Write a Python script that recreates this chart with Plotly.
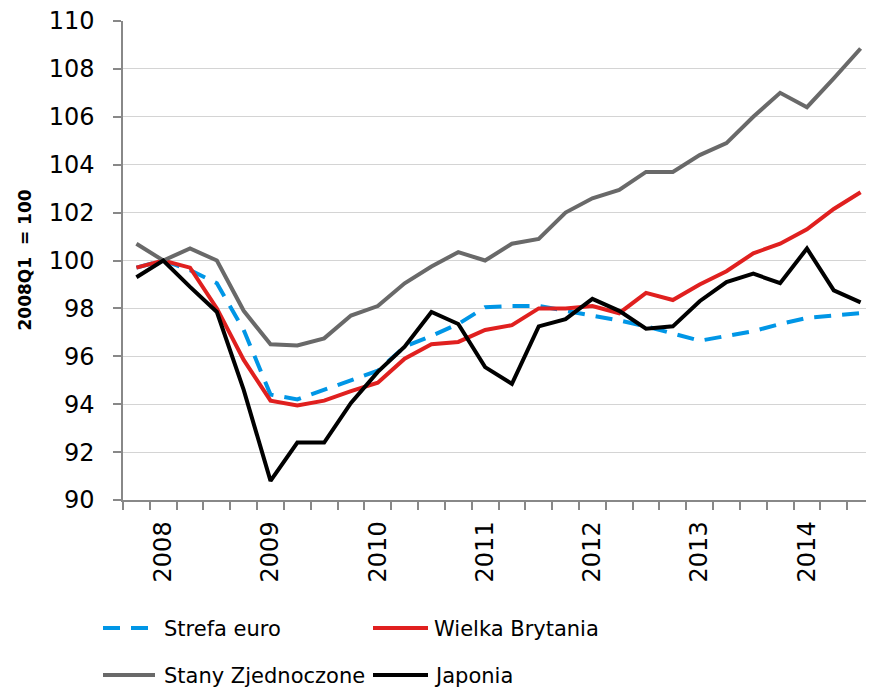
import plotly.graph_objects as go

# ---- data ----
quarters = ["2007Q4",
            "2008Q1", "2008Q2", "2008Q3", "2008Q4",
            "2009Q1", "2009Q2", "2009Q3", "2009Q4",
            "2010Q1", "2010Q2", "2010Q3", "2010Q4",
            "2011Q1", "2011Q2", "2011Q3", "2011Q4",
            "2012Q1", "2012Q2", "2012Q3", "2012Q4",
            "2013Q1", "2013Q2", "2013Q3", "2013Q4",
            "2014Q1", "2014Q2", "2014Q3"]

strefa_euro = [99.7, 100.0, 99.6, 99.05, 97.1, 94.4, 94.2, 94.6, 95.0, 95.4,
               96.4, 96.85, 97.35, 98.05, 98.1, 98.1, 97.9, 97.7, 97.5, 97.25,
               96.95, 96.65, 96.85, 97.05, 97.35, 97.6, 97.7, 97.8]
wielka_brytania = [99.7, 100.0, 99.7, 98.0, 95.85, 94.15, 93.95, 94.15, 94.55, 94.9,
                   95.9, 96.5, 96.6, 97.1, 97.3, 98.0, 98.0, 98.1, 97.8, 98.65,
                   98.35, 99.0, 99.55, 100.3, 100.7, 101.3, 102.15, 102.85]
stany_zjednoczone = [100.7, 100.0, 100.5, 100.0, 97.9, 96.5, 96.45, 96.75, 97.7, 98.1,
                     99.05, 99.75, 100.35, 100.0, 100.7, 100.9, 102.0, 102.6, 102.95, 103.7,
                     103.7, 104.4, 104.9, 106.0, 107.0, 106.4, 107.6, 108.85]
japonia = [99.3, 100.0, 98.9, 97.85, 94.6, 90.8, 92.4, 92.4, 94.05, 95.35,
           96.4, 97.85, 97.35, 95.55, 94.85, 97.25, 97.55, 98.4, 97.9, 97.15,
           97.25, 98.3, 99.1, 99.45, 99.05, 100.5, 98.75, 98.25]

series_names = ["Strefa euro", "Wielka Brytania", "Stany Zjednoczone", "Japonia"]
y_title = "2008Q1  = 100"
y_ticks = [90, 92, 94, 96, 98, 100, 102, 104, 106, 108, 110]

# ---- styling ----
FONT = "DejaVu Sans"
OFF = 8                       # page body margin
W, H = 874 - OFF, 688 - OFF
ML, MT = 123 - OFF, 21 - OFF
PW, PH = 751, 479
MR = W - ML - PW
MB = H - MT - PH

colors = ["#0096E6", "#E0201F", "#696969", "#000000"]
dashes = ["17px,11px", "solid", "solid", "solid"]

idx = list(range(len(quarters)))
year_idx = [i for i, q in enumerate(quarters) if q.endswith("Q1")]
year_txt = [quarters[i][:4] for i in year_idx]

fig = go.Figure()
for name, vals, c, d in zip(series_names,
                            [strefa_euro, wielka_brytania, stany_zjednoczone, japonia],
                            colors, dashes):
    fig.add_trace(go.Scatter(x=idx, y=vals, mode="lines", name=name,
                             text=quarters, hovertemplate="%{text}: %{y}<extra>" + name + "</extra>",
                             line=dict(color=c, width=4, dash=d), showlegend=False))


def px_x(p):
    return (p - OFF - ML) / PW


def px_y(p):
    return (H - MB - (p - OFF)) / PH


# manual legend (Excel-like layout), page-pixel positions
legend_pos = [(103, 150, 628), (373, 428, 628), (103, 155, 675), (373, 428, 675)]
text_x = [162, 432, 162, 432]
shapes = []
annotations = []
for (x0, x1, yy), tx, name, c, d in zip(legend_pos, text_x, series_names, colors, dashes):
    shapes.append(dict(type="line", xref="paper", yref="paper",
                       x0=px_x(x0), x1=px_x(x1), y0=px_y(yy), y1=px_y(yy),
                       line=dict(color=c, width=4, dash=d)))
    annotations.append(dict(xref="paper", yref="paper", x=px_x(tx), y=px_y(yy + 1),
                            xanchor="left", yanchor="middle", showarrow=False,
                            text=name, font=dict(family=FONT, size=21, color="#000000")))

annotations.append(dict(xref="paper", yref="paper", x=px_x(24), y=0.5,
                        xanchor="center", yanchor="middle", showarrow=False,
                        textangle=-90, text="<b>" + y_title + "</b>",
                        font=dict(family=FONT, size=17, color="#000000")))

fig.update_layout(
    width=W, height=H,
    margin=dict(l=ML, r=MR, t=MT, b=MB),
    paper_bgcolor="white", plot_bgcolor="white",
    font=dict(family=FONT, color="#000000"),
    shapes=shapes, annotations=annotations,
    hovermode="closest",
)

fig.update_xaxes(
    range=[-0.5, len(quarters) - 0.5],
    tickmode="array", tickvals=year_idx, ticktext=year_txt,
    tickangle=-90, ticks="", ticklabelstandoff=10,
    ticklabeloverflow="allow",
    tickfont=dict(family=FONT, size=24, color="#000000"),
    showline=True, linecolor="#888888", linewidth=1.5,
    showgrid=False, zeroline=False,
    minor=dict(tickmode="array", tickvals=[i - 0.5 for i in range(len(quarters) + 1)],
               ticks="outside", ticklen=8, tickcolor="#888888", tickwidth=1.5,
               showgrid=False),
)

fig.update_yaxes(
    range=[90, 110], tickmode="array", tickvals=y_ticks,
    ticks="outside", ticklen=8, tickcolor="#888888", tickwidth=1.5,
    ticklabelstandoff=14, ticklabeloverflow="allow",
    tickfont=dict(family=FONT, size=24, color="#000000"),
    showline=True, linecolor="#888888", linewidth=1.5,
    showgrid=True, gridcolor="#D4D4D4", gridwidth=1.2,
    zeroline=False,
)

fig.write_html("out.html")
